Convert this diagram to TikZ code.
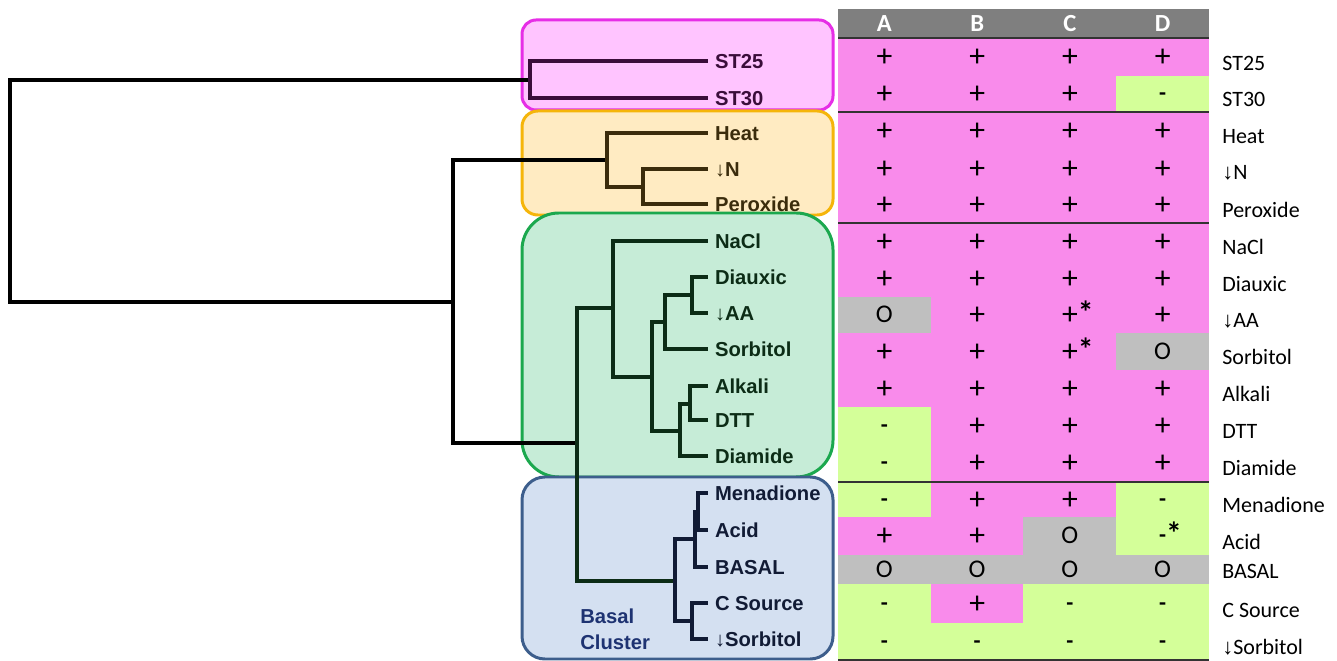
\documentclass[tikz,border=0pt]{standalone}
\usepackage{fontspec}
\setmainfont{Liberation Sans}
\newfontfamily\calib{Carlito}
\newfontfamily\arrowfont{Liberation Sans}

\definecolor{posfill}{HTML}{F98BEB}
\definecolor{negfill}{HTML}{D4FF99}
\definecolor{zerofill}{HTML}{BFBFBF}
\definecolor{headgray}{HTML}{7F7F7F}
\definecolor{pinkbg}{HTML}{FFC4FF}
\definecolor{pinkedge}{HTML}{E62EE6}
\definecolor{orangebg}{HTML}{FFEBC2}
\definecolor{orangeedge}{HTML}{F5B50A}
\definecolor{greenbg}{HTML}{C6ECD7}
\definecolor{greenedge}{HTML}{1BA84E}
\definecolor{bluebg}{HTML}{D4E0F1}
\definecolor{blueedge}{HTML}{3D5E8C}
\definecolor{pinkink}{HTML}{3A0D3A}
\definecolor{orangeink}{HTML}{3B2C0C}
\definecolor{greenink}{HTML}{0C2C16}
\definecolor{blueink}{HTML}{111B35}
\definecolor{basalink}{HTML}{1E3372}

\newcommand\dn{{\arrowfont\mdseries ↓}}
\newcommand\bigplus{\raisebox{-1.6pt}{\fontsize{18}{18}\selectfont +}}
\newcommand\sigmark{\rlap{\smash{\raisebox{-1.2pt}{\fontsize{18}{18}\selectfont\bfseries *}}}}
\newcommand\txtp{\bigplus}
\newcommand\txtm{{\bfseries -}}
\newcommand\txto{\raisebox{-0.4pt}{\fontsize{14.5}{15}\selectfont O}}
\newcommand\txtq{\bigplus\sigmark}
\newcommand\txtn{{\bfseries -}\sigmark}

\tikzset{
  fork/.style={inner sep=0pt, outer sep=0pt, minimum size=0pt},
  branch/.style={line width=2pt},
  leaf/.style={anchor=west, inner xsep=4pt, inner ysep=0pt, outer sep=0pt,
    text height=10.2pt, text depth=2pt, font=\fontsize{11.5}{13}\selectfont\bfseries},
  clade/.style={line width=1.7pt, rounded corners=#1},
  cell/.style={inner sep=0pt, outer sep=0pt, minimum width=1.86cm,
    text height=7.8pt, text depth=0pt, font=\calib\fontsize{13}{14}\selectfont},
  valp/.style={cell, fill=posfill},
  valq/.style={cell, fill=posfill},
  valm/.style={cell, fill=negfill},
  valn/.style={cell, fill=negfill},
  valo/.style={cell, fill=zerofill},
  rowlab/.style={anchor=west, inner sep=0pt, text height=10pt, text depth=2pt,
    font=\calib\fontsize{12.5}{14}\selectfont},
  colhead/.style={text=white, inner sep=0pt, text height=9pt, text depth=0pt,
    font=\calib\bfseries\fontsize{14}{15}\selectfont},
  rule/.style={line width=0.7pt, black!80}
}

\begin{document}
\begin{tikzpicture}[x=0.02cm, y=-0.02cm]
	\useasboundingbox (0,0) rectangle (1337,661);

	% cluster boxes
	\draw[clade=8pt, pinkedge, fill=pinkbg] (522,20) rectangle (833,110);
	\draw[clade=9pt, orangeedge, fill=orangebg] (522,111) rectangle (833,215);
	\draw[clade=21pt, greenedge, fill=greenbg] (522,213) rectangle (833,477);
	\draw[clade=13pt, blueedge, fill=bluebg] (522,477) rectangle (833,659);

	% table
	\fill[headgray] (838,9) rectangle (1209,38);
	\foreach \h [count=\k] in {A,B,C,D}
		\node[colhead] (head-\h) at ({838+92.75*(\k-0.5)},23.5) {\h};
	\foreach \yt/\yb/\ly/\lab/\va/\vb/\vc/\vd [count=\r] in {
		38/76/63/ST25/p/p/p/p,
		76/112/99/ST30/p/p/p/m,
		112/150/136/Heat/p/p/p/p,
		150/187/172/\dn N/p/p/p/p,
		187/223/210/Peroxide/p/p/p/p,
		223/260/247/NaCl/p/p/p/p,
		260/297/284/Diauxic/p/p/p/p,
		297/333/320/\dn AA/o/p/q/p,
		333/370/357/Sorbitol/p/p/q/o,
		370/407/394/Alkali/p/p/p/p,
		407/444/431/DTT/m/p/p/p,
		444/482/468/Diamide/m/p/p/p,
		482/517/505/Menadione/m/p/p/m,
		517/555/542/Acid/p/p/o/n,
		555/584/571/BASAL/o/o/o/o,
		584/623/610/C Source/m/p/m/m,
		623/660/647/\dn Sorbitol/m/m/m/m}
	{
		\foreach \v [count=\k] in {\va,\vb,\vc,\vd}
			\node[val\v, minimum height={(\yb-\yt)*0.02cm+0.3pt}] (cell-\r-\k)
				at ({838+92.75*(\k-0.5)},{(\yt+\yb)/2}) {\csname txt\v\endcsname};
		\node[rowlab] (lab-\r) at (1222,\ly) {\lab};
	}
	\foreach \y in {38,112,223,482,660}
		\draw[rule] (838,\y) -- (1209,\y);

	% tree forks
	\node[fork] (root) at (10,191) {};
	\node[fork] (pinkN) at (530,80) {};
	\node[fork] (n2) at (453,302) {};
	\node[fork] (orangeN) at (607,160) {};
	\node[fork] (nNP) at (643,187) {};
	\node[fork] (gbN) at (577,443) {};
	\node[fork] (greenN) at (613,308) {};
	\node[fork] (g2) at (652,377) {};
	\node[fork] (g3) at (665,322) {};
	\node[fork] (g5) at (692,295) {};
	\node[fork] (g4) at (680,431) {};
	\node[fork] (g6) at (690,404) {};
	\node[fork] (blueN) at (675,581) {};
	\node[fork] (b2) at (695,539) {};
	\node[fork] (b4) at (698,512) {};
	\node[fork] (b3) at (692,621) {};

	% leaves
	\node[leaf, pinkink] (ST25) at (708,61) {ST25};
	\node[leaf, pinkink] (ST30) at (708,98) {ST30};
	\node[leaf, orangeink] (Heat) at (708,133) {Heat};
	\node[leaf, orangeink] (dN) at (708,169) {\dn N};
	\node[leaf, orangeink] (Perox) at (708,204) {Peroxide};
	\node[leaf, greenink] (NaCl) at (708,241) {NaCl};
	\node[leaf, greenink] (Diaux) at (708,277) {Diauxic};
	\node[leaf, greenink] (dAA) at (708,313) {\dn AA};
	\node[leaf, greenink] (Sorb) at (708,349) {Sorbitol};
	\node[leaf, greenink] (Alk) at (708,386) {Alkali};
	\node[leaf, greenink] (DTT) at (708,420) {DTT};
	\node[leaf, greenink] (Diam) at (708,456) {Diamide};
	\node[leaf, blueink] (Men) at (708,493) {Menadione};
	\node[leaf, blueink] (Acid) at (708,530) {Acid};
	\node[leaf, blueink] (BASAL) at (708,567) {BASAL};
	\node[leaf, blueink] (CSrc) at (708,603) {C Source};
	\node[leaf, blueink] (dSorb) at (708,639) {\dn Sorbitol};

	\node[basalink, anchor=west, align=left, inner sep=0pt,
		font=\fontsize{11.5}{14.7}\selectfont\bfseries] (basal) at (580,629) {Basal\\Cluster};

	% branches
	\foreach \p/\c in {root/pinkN, root/n2, n2/orangeN, n2/gbN}
		\draw[branch] (\p.center) |- (\c.west);
	\foreach \p/\c in {pinkN/ST25, pinkN/ST30}
		\draw[branch, pinkink] (\p.center) |- (\c.west);
	\foreach \p/\c in {orangeN/Heat, orangeN/nNP, nNP/dN, nNP/Perox}
		\draw[branch, orangeink] (\p.center) |- (\c.west);
	\foreach \p/\c in {gbN/greenN, gbN/blueN, greenN/NaCl, greenN/g2, g2/g3, g2/g4,
			g3/g5, g3/Sorb, g5/Diaux, g5/dAA, g4/g6, g4/Diam, g6/Alk, g6/DTT}
		\draw[branch, greenink] (\p.center) |- (\c.west);
	\foreach \p/\c in {blueN/b2, blueN/b3, b2/b4, b2/BASAL, b4/Men, b4/Acid, b3/CSrc, b3/dSorb}
		\draw[branch, blueink] (\p.center) |- (\c.west);
\end{tikzpicture}
\end{document}
